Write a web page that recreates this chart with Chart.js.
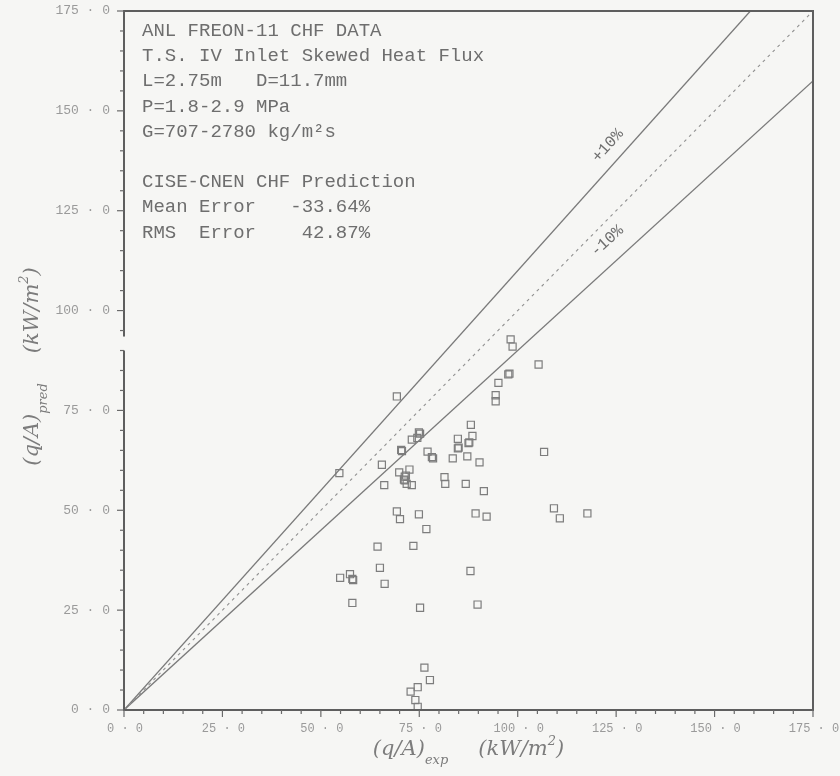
<!DOCTYPE html>
<html>
<head>
<meta charset="utf-8">
<script src="https://cdn.jsdelivr.net/npm/chart.js@4/dist/chart.umd.min.js"></script>
<style>
  html, body { margin: 0; padding: 0; background: #f6f6f4; }
  canvas { display: block; }
</style>
</head>
<body>
<canvas id="chf" width="840" height="776"></canvas>
<script>
// measured vs predicted critical heat flux, kW/m2
const qExp = [
  69.3, 54.7, 105.3, 97.6, 97.9, 95.1, 94.4, 94.4, 98.2, 98.7,
  88.1, 88.5, 84.8, 87.5, 87.7, 84.8, 85.0, 87.2, 83.5, 90.3,
  75.2, 74.9, 74.5, 73.1, 70.4, 70.6, 77.1, 78.2, 78.5, 65.5,
  72.5, 69.9, 71.6, 71.3, 71.1, 71.3, 71.8, 73.1, 66.1, 81.4,
  81.6, 86.8, 91.4, 106.7, 69.3, 70.1, 74.9, 76.8, 89.3, 92.1,
  109.2, 110.7, 117.7, 64.4, 73.5, 65.0, 88.0, 66.2, 54.9, 57.4,
  58.2, 58.0, 58.0, 75.2, 89.8, 76.3, 77.7, 74.6, 72.8, 74.0,
  74.6
];
const qPred = [
  78.5, 59.3, 86.5, 84.0, 84.2, 81.9, 78.8, 77.3, 92.8, 91.0,
  71.4, 68.6, 67.9, 66.8, 67.0, 65.5, 65.7, 63.5, 63.0, 62.0,
  69.2, 69.5, 68.1, 67.7, 65.1, 64.8, 64.7, 63.3, 63.0, 61.4,
  60.2, 59.5, 58.7, 58.4, 57.7, 57.5, 56.6, 56.3, 56.3, 58.3,
  56.6, 56.6, 54.8, 64.6, 49.7, 47.8, 49.0, 45.3, 49.2, 48.4,
  50.5, 48.0, 49.2, 40.9, 41.1, 35.6, 34.8, 31.6, 33.1, 34.0,
  32.5, 32.8, 26.8, 25.6, 26.4, 10.6, 7.5, 5.7, 4.6, 2.5,
  0.8
];

// reference lines (end points)
const parityLine = [[0, 0], [175, 175]];
const plusTenLine = [[0, 0], [159.1, 175]];
const minusTenLine = [[0, 0], [175, 157.5]];

const axisTicks = [0, 25, 50, 75, 100, 125, 150, 175];
const tickLabels = ['0 · 0', '25 · 0', '50 · 0', '75 · 0', '100 · 0', '125 · 0', '150 · 0', '175 · 0'];

const infoLines = [
  'ANL FREON-11 CHF DATA',
  'T.S. IV Inlet Skewed Heat Flux',
  'L=2.75m   D=11.7mm',
  'P=1.8-2.9 MPa',
  'G=707-2780 kg/m²s',
  '',
  'CISE-CNEN CHF Prediction',
  'Mean Error   -33.64%',
  'RMS  Error    42.87%'
];

const SERIF = '"DejaVu Serif", "Liberation Serif", serif';
const MONO = '"Liberation Mono", "DejaVu Sans Mono", monospace';
const INK = '#6e6e6e';

const toXY = pts => pts.map(p => ({ x: p[0], y: p[1] }));

function labelFor(v) {
  const i = axisTicks.indexOf(v);
  return i >= 0 ? tickLabels[i] : '';
}

// draw a run of text pieces (with sub/superscripts) centred on (cx, cy)
function drawRuns(ctx, runs, cx, cy, angle) {
  ctx.save();
  ctx.translate(cx, cy);
  ctx.rotate(angle);
  let total = 0;
  runs.forEach(r => { ctx.font = r.font; total += ctx.measureText(r.text).width + (r.gap || 0); });
  let x = -total / 2;
  ctx.textBaseline = 'alphabetic';
  ctx.textAlign = 'left';
  runs.forEach(r => {
    ctx.font = r.font;
    ctx.fillText(r.text, x, r.dy || 0);
    x += ctx.measureText(r.text).width + (r.gap || 0);
  });
  ctx.restore();
}

const framePlugin = {
  id: 'frame',
  beforeDraw(chart) {
    const ctx = chart.ctx;
    ctx.save();
    ctx.fillStyle = '#f6f6f4';
    ctx.fillRect(0, 0, chart.width, chart.height);
    ctx.restore();
  },
  afterDraw(chart) {
    const { ctx, chartArea: a, scales } = chart;
    const xs = scales.x, ys = scales.y;
    ctx.save();
    // box round the plot
    ctx.strokeStyle = '#5e5e5e';
    ctx.lineWidth = 2;
    ctx.strokeRect(a.left, a.top, a.right - a.left, a.bottom - a.top);

    // small break in the left axis
    ctx.fillStyle = '#f6f6f4';
    const gTop = ys.getPixelForValue(93.5), gBot = ys.getPixelForValue(90);
    ctx.fillRect(a.left - 3, gTop, 6, gBot - gTop);

    // tick marks every 5 units
    ctx.strokeStyle = '#6a6a6a';
    ctx.lineWidth = 1.2;
    for (let v = 0; v <= 175; v += 5) {
      const major = v % 25 === 0;
      const len = major ? 7 : 4;
      const px = xs.getPixelForValue(v);
      ctx.beginPath();
      ctx.moveTo(px, a.bottom);
      ctx.lineTo(px, a.bottom + len);
      ctx.stroke();
      const py = ys.getPixelForValue(v);
      ctx.beginPath();
      ctx.moveTo(a.left, py);
      ctx.lineTo(a.left - len, py);
      ctx.stroke();
    }

    // information block
    ctx.fillStyle = INK;
    ctx.font = '19px ' + MONO;
    ctx.textBaseline = 'middle';
    infoLines.forEach((t, i) => {
      if (t) ctx.fillText(t, a.left + 18, 31 + i * 25.2);
    });

    // band labels along the lines
    ctx.font = '16px ' + MONO;
    ctx.textAlign = 'center';
    ctx.save();
    ctx.translate(xs.getPixelForValue(122.9), ys.getPixelForValue(141.3));
    ctx.rotate(-48 * Math.PI / 180);
    ctx.fillText('+10%', 0, 0);
    ctx.restore();
    ctx.save();
    ctx.translate(xs.getPixelForValue(122.7), ys.getPixelForValue(117.4));
    ctx.rotate(-42 * Math.PI / 180);
    ctx.fillText('-10%', 0, 0);
    ctx.restore();

    // axis titles
    ctx.fillStyle = '#7c7c7c';
    const big = 'italic 21px ' + SERIF;
    const small = 'italic 13px ' + SERIF;
    const cxMid = (a.left + a.right) / 2;
    drawRuns(ctx, [
      { text: '(q/A)', font: big },
      { text: 'exp', font: small, dy: 9, gap: 30 },
      { text: '(kW/m', font: big },
      { text: '2', font: small, dy: -10 },
      { text: ')', font: big }
    ], cxMid, 755, 0);
    const cyMid = (a.top + a.bottom) / 2 + 6;
    drawRuns(ctx, [
      { text: '(q/A)', font: big },
      { text: 'pred', font: small, dy: 9, gap: 30 },
      { text: '(kW/m', font: big },
      { text: '2', font: small, dy: -10 },
      { text: ')', font: big }
    ], 38, cyMid, -Math.PI / 2);
    ctx.restore();
  }
};

const lineStyle = { showLine: true, pointRadius: 0, borderColor: '#7a7a7a', borderWidth: 1.3, fill: false };

new Chart(document.getElementById('chf'), {
  type: 'scatter',
  data: {
    datasets: [
      { ...lineStyle, data: toXY(parityLine), borderDash: [3, 4], borderColor: '#909090', borderWidth: 1.1 },
      { ...lineStyle, data: toXY(plusTenLine) },
      { ...lineStyle, data: toXY(minusTenLine) },
      {
        data: qExp.map((x, i) => ({ x, y: qPred[i] })),
        pointStyle: 'rect',
        pointRadius: 5,
        pointBorderWidth: 1.2,
        pointBorderColor: '#7d7d7d',
        pointBackgroundColor: 'rgba(0,0,0,0)'
      }
    ]
  },
  options: {
    responsive: false,
    animation: false,
    layout: { padding: { top: 11, right: 27, left: 0, bottom: 0 } },
    plugins: { legend: { display: false }, tooltip: { enabled: false } },
    scales: {
      x: {
        type: 'linear',
        min: 0, max: 175,
        afterBuildTicks: s => { s.ticks = axisTicks.map(v => ({ value: v })); },
        // fixed axis band; end labels may hang past the plot edge
        afterFit: s => { s.height = 66; s.paddingLeft = 0; s.paddingRight = 0; },
        grid: { display: false },
        border: { display: false },
        ticks: {
          callback: v => labelFor(v),
          color: '#9a9a9a',
          font: { family: MONO, size: 12 },
          padding: 4,
          labelOffset: 1,
          maxRotation: 0,
          autoSkip: false
        }
      },
      y: {
        type: 'linear',
        min: 0, max: 175,
        afterBuildTicks: s => { s.ticks = axisTicks.map(v => ({ value: v })); },
        afterFit: s => { s.width = 124; s.paddingTop = 0; s.paddingBottom = 0; },
        grid: { display: false },
        border: { display: false },
        ticks: {
          callback: v => labelFor(v),
          color: '#9a9a9a',
          font: { family: MONO, size: 13 },
          padding: 6,
          autoSkip: false
        }
      }
    }
  },
  plugins: [framePlugin]
});
</script>
</body>
</html>
